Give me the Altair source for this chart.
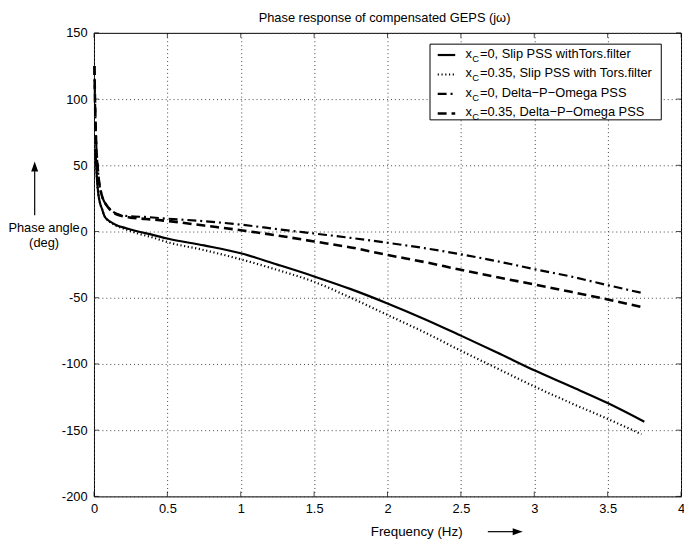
import altair as alt
import pandas as pd

# ---------------- data ----------------
f_slip0 = [0.01, 0.015, 0.02, 0.03, 0.04, 0.055, 0.07, 0.09, 0.11, 0.15, 0.22, 0.3, 0.4, 0.5,
           0.75, 1.0, 1.25, 1.5, 1.75, 2.0, 2.25, 2.5, 2.75, 3.0, 3.25, 3.5, 3.75]
p_slip0 = [62, 50, 40, 28, 22, 17, 12, 9, 7.5, 5, 2.5, 0, -2.5, -5.3,
           -10.5, -16.4, -25, -33.9, -43.5, -54.3, -66, -78.6, -91.5, -104.8, -117, -129.5, -143.6]

f_slip35 = [0.01, 0.015, 0.02, 0.03, 0.04, 0.055, 0.07, 0.09, 0.11, 0.15, 0.22, 0.3, 0.4, 0.5,
            0.75, 1.0, 1.25, 1.5, 1.75, 2.0, 2.25, 2.5, 2.75, 3.0, 3.25, 3.5, 3.73]
p_slip35 = [62, 50, 40, 28, 22, 17, 12, 9, 7, 4.5, 1.5, -1.5, -4.5, -8,
            -14, -21, -29, -38, -50, -63, -76, -90, -103.5, -117, -129.5, -141.5, -153]

f_dpo0 = [0.003, 0.006, 0.01, 0.016, 0.024, 0.032, 0.045, 0.06, 0.088, 0.13, 0.18, 0.25, 0.35, 0.5,
          0.75, 1.0, 1.25, 1.5, 1.75, 2.0, 2.25, 2.5, 2.75, 3.0, 3.25, 3.5, 3.75]
p_dpo0 = [125, 105, 85, 64, 50, 40, 31, 25, 19.5, 15, 12.5, 11.5, 11, 9.7,
          7.8, 5.2, 1.8, -1.5, -4.8, -8.5, -12.5, -17.2, -22.5, -28.4, -34, -40.5, -46.8]

f_dpo35 = [0.003, 0.006, 0.01, 0.016, 0.024, 0.032, 0.045, 0.06, 0.088, 0.13, 0.18, 0.25, 0.35, 0.5,
           0.75, 1.0, 1.25, 1.5, 1.75, 2.0, 2.25, 2.5, 2.75, 3.0, 3.25, 3.5, 3.75]
p_dpo35 = [125, 105, 85, 64, 50, 40, 31, 25, 19.5, 14.5, 12, 10.5, 9.5, 8,
           4.5, 1, -3, -7.5, -12, -17.7, -23, -28.9, -34.5, -40, -45.5, -51.3, -57.5]

x_ticks = [0, 0.5, 1, 1.5, 2, 2.5, 3, 3.5, 4]
y_ticks = [-200, -150, -100, -50, 0, 50, 100, 150]

legend_sub = ["C", "C", "C", "C"]
legend_rest = ["=0, Slip PSS withTors.filter",
               "=0.35, Slip PSS with Tors.filter",
               "=0, Delta\u2212P\u2212Omega PSS",
               "=0.35, Delta\u2212P\u2212Omega PSS"]

title_text = "Phase response of compensated GEPS (j\u03c9)"
x_title = "Frequency (Hz)"
y_title = ["Phase angle", "(deg)"]

# ---------------- styles ----------------
FONT = "Liberation Sans"
W, H = 594, 469
styles = [
    dict(strokeWidth=2.2),                         # solid
    dict(strokeWidth=2.2, strokeDash=[1.2, 2.6]),  # dotted
    dict(strokeWidth=2.2, strokeDash=[9, 4, 2, 4]),# dash-dot
    dict(strokeWidth=2.6, strokeDash=[9, 5]),      # dashed
]
series = [(f_slip0, p_slip0), (f_slip35, p_slip35), (f_dpo0, p_dpo0), (f_dpo35, p_dpo35)]

xscale = alt.Scale(domain=[0, 4], nice=False, zero=False)
yscale = alt.Scale(domain=[-200, 150], nice=False, zero=False)

common = dict(grid=True, gridDash=[1, 3], gridColor="#444", gridWidth=1, tickSize=0,
              domain=False, labelFont=FONT, labelFontSize=13, labelColor="black",
              labelExpr="datum.value + ''", labelFlush=False, titleFont=FONT,
              titleFontWeight="normal", titleColor="black")
xaxis = alt.Axis(values=x_ticks, labelPadding=6, title=x_title, titleX=326, titleY=40,
                 titleBaseline="alphabetic", titleAlign="center", titleFontSize=13.5,
                 **common)
yaxis = alt.Axis(values=y_ticks, labelPadding=7, title=y_title, titleAngle=0, titleX=-51,
                 titleY=191, titleAlign="center", titleBaseline="top", titleLineHeight=15,
                 titleFontSize=13, **common)

XE = alt.X("f:Q", scale=xscale, axis=xaxis)
YE = alt.Y("p:Q", scale=yscale, axis=yaxis)

layers = []
for (fs, ps), st in zip(series, styles):
    df = pd.DataFrame({"f": fs, "p": ps})
    layers.append(alt.Chart(df).mark_line(color="black", interpolate="monotone", **st).encode(
        x=XE, y=YE))

# inward ticks on all four sides
xt = pd.DataFrame({"f": x_ticks})
yt = pd.DataFrame({"p": y_ticks})
for yv in [H - 2.5, 2.5]:
    layers.append(alt.Chart(xt).mark_tick(color="black", size=5, thickness=1).encode(
        x=XE, y=alt.value(yv)))
for xv in [2.5, W - 2.5]:
    layers.append(alt.Chart(yt).mark_tick(color="black", size=5, thickness=1).encode(
        y=YE, x=alt.value(xv)))

one = alt.Data(values=[{"a": 1}])

# title
layers.append(alt.Chart(one).mark_text(font=FONT, fontSize=13, align="center",
                                       baseline="alphabetic", color="black").encode(
    x=alt.value(294), y=alt.value(-11.5), text=alt.value(title_text)))

# legend box
layers.append(alt.Chart(one).mark_rect(fill="white", stroke="black", strokeWidth=1).encode(
    x=alt.value(340), x2=alt.value(574), y=alt.value(11.4), y2=alt.value(88)))
for i in range(4):
    ly = 22.4 + i * 19.7
    layers.append(alt.Chart(one).mark_rule(color="black", **styles[i]).encode(
        x=alt.value(347.8), x2=alt.value(365.5), y=alt.value(ly)))
    layers.append(alt.Chart(one).mark_text(font=FONT, fontSize=13, align="left",
                                           baseline="alphabetic", color="black").encode(
        x=alt.value(376), y=alt.value(ly + 2.8), text=alt.value("x")))
    layers.append(alt.Chart(one).mark_text(font=FONT, fontSize=9.5, align="left",
                                           baseline="alphabetic", color="black").encode(
        x=alt.value(382.8), y=alt.value(ly + 6.8), text=alt.value(legend_sub[i])))
    layers.append(alt.Chart(one).mark_text(font=FONT, fontSize=13, align="left",
                                           baseline="alphabetic", color="black").encode(
        x=alt.value(390.5), y=alt.value(ly + 2.8), text=alt.value(legend_rest[i])))

# axis arrows
UP = "M0,-1L0.55,0.6L-0.55,0.6Z"
RIGHT = "M1,0L-0.6,0.55L-0.6,-0.55Z"
layers.append(alt.Chart(one).mark_rule(color="black", strokeWidth=1.2).encode(
    x=alt.value(-60), y=alt.value(184.5), y2=alt.value(140)))
layers.append(alt.Chart(one).mark_point(shape=UP, filled=True, fill="black", stroke="black",
                                        size=60, opacity=1, fillOpacity=1).encode(
    x=alt.value(-60), y=alt.value(137)))
layers.append(alt.Chart(one).mark_rule(color="black", strokeWidth=1.2).encode(
    x=alt.value(398.5), x2=alt.value(424), y=alt.value(H + 35.7)))
layers.append(alt.Chart(one).mark_point(shape=RIGHT, filled=True, fill="black", stroke="black",
                                        size=60, opacity=1, fillOpacity=1).encode(
    x=alt.value(427), y=alt.value(H + 35.7)))

chart = alt.layer(*layers).properties(
    width=W, height=H,
    padding={"left": 87, "top": 22, "right": 3, "bottom": 45},
    autosize=alt.AutoSizeParams(type="none"),
    background="white",
).configure_view(stroke="black", strokeWidth=1)

chart.save("out.html", embed_options={"renderer": "svg", "actions": False})
